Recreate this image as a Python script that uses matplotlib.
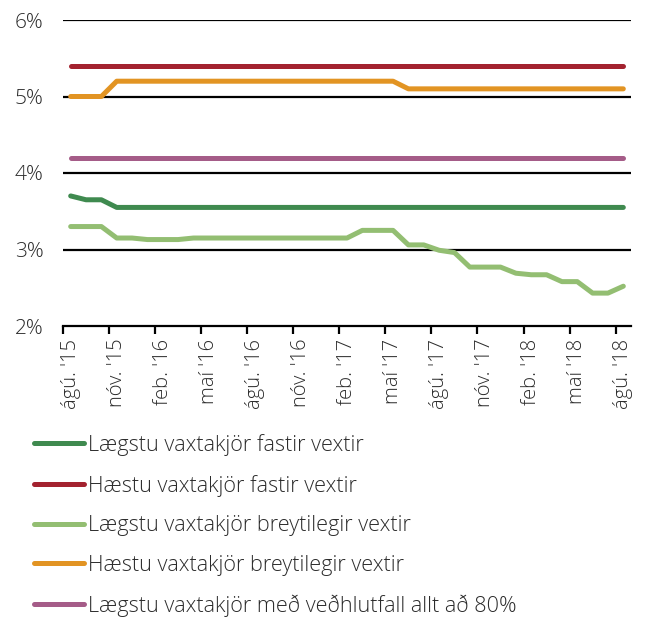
import matplotlib
matplotlib.use('Agg')
import matplotlib.pyplot as plt
import numpy as np

plt.rcParams['font.family'] = ['Open Sans', 'DejaVu Sans']
plt.rcParams['font.weight'] = 'light'

# %% Data (monthly, ágú '15 - ágú '18)

months = ['ágú. \'15', 'sep. \'15', 'okt. \'15', 'nóv. \'15', 'des. \'15',
          'jan. \'16', 'feb. \'16', 'mar. \'16', 'apr. \'16', 'maí \'16',
          'jún. \'16', 'júl. \'16', 'ágú. \'16', 'sep. \'16', 'okt. \'16',
          'nóv. \'16', 'des. \'16', 'jan. \'17', 'feb. \'17', 'mar. \'17',
          'apr. \'17', 'maí \'17', 'jún. \'17', 'júl. \'17', 'ágú. \'17',
          'sep. \'17', 'okt. \'17', 'nóv. \'17', 'des. \'17', 'jan. \'18',
          'feb. \'18', 'mar. \'18', 'apr. \'18', 'maí \'18', 'jún. \'18',
          'júl. \'18', 'ágú. \'18']

lowFixed = [3.70, 3.65, 3.65] + [3.55] * 34
highFixed = [5.40] * 37
lowVariable = [3.30, 3.30, 3.30, 3.15, 3.15, 3.13, 3.13, 3.13, 3.15, 3.15,
               3.15, 3.15, 3.15, 3.15, 3.15, 3.15, 3.15, 3.15, 3.15, 3.25,
               3.25, 3.25, 3.06, 3.06, 2.99, 2.96, 2.77, 2.77, 2.77, 2.69,
               2.67, 2.67, 2.58, 2.58, 2.43, 2.43, 2.52]
highVariable = [5.00, 5.00, 5.00] + [5.20] * 19 + [5.10] * 15
lowLtv80 = [4.20] * 37

series = [('Lægstu vaxtakjör fastir vextir', lowFixed, '#3f8a4f'),
          ('Hæstu vaxtakjör fastir vextir', highFixed, '#a3222f'),
          ('Lægstu vaxtakjör breytilegir vextir', lowVariable, '#93be72'),
          ('Hæstu vaxtakjör breytilegir vextir', highVariable, '#e29423'),
          ('Lægstu vaxtakjör með veðhlutfall allt að 80%', lowLtv80, '#a55c88')]

# %% Plot

textCol = '#2b2b2b'

fig = plt.figure(figsize = (6.46, 6.19), dpi = 100)
ax = fig.add_axes([63/646, 1 - 326/619, (631 - 63)/646, (326 - 20)/619])

x = np.arange(len(months))

#Gridlines first so lines sit on top
for yy in [3, 4, 5, 6]:
    ax.axhline(yy, color = 'black', lw = 1.6, zorder = 1)

for label, vals, col in series:
    ax.plot(x, vals, color = col, lw = 3.6, solid_capstyle = 'round',
            solid_joinstyle = 'round', label = label, zorder = 3)

ax.set_xlim(-0.5, len(months) - 0.5)
ax.set_ylim(2, 6)

#Y axis
ax.set_yticks([2, 3, 4, 5, 6])
ax.set_yticklabels([f'{v}%' for v in [2, 3, 4, 5, 6]])
ax.tick_params(axis = 'y', length = 0, pad = 14, labelsize = 15, labelcolor = textCol)

#X axis: ticks between categories, labels every 3rd month
ax.set_xticks(np.arange(-0.5, len(months), 3))
ax.set_xticklabels([])
ax.set_xticks(x[::3], minor = True)
ax.set_xticklabels([months[i] for i in x[::3]], minor = True, rotation = 90)
ax.tick_params(axis = 'x', which = 'major', length = 6, width = 1.6, direction = 'out',
               color = 'black')
ax.tick_params(axis = 'x', which = 'minor', length = 0, pad = 9, labelsize = 14.5,
               labelcolor = textCol)

for side in ['top', 'right', 'left']:
    ax.spines[side].set_visible(False)
ax.spines['bottom'].set_linewidth(1.6)
ax.spines['bottom'].set_zorder(2)

#Legend below the chart
leg = ax.legend(loc = 'upper left', bbox_to_anchor = (34/646, 1 - 434/619),
                bbox_transform = fig.transFigure, frameon = False,
                fontsize = 15.6, handlelength = 2.3, handletextpad = 0.17,
                labelspacing = 0.86, borderpad = 0, borderaxespad = 0)
for txt in leg.get_texts():
    txt.set_color(textCol)
for ln in leg.get_lines():
    ln.set_linewidth(3.6)
    ln.set_solid_capstyle('round')

plt.savefig('out.png', dpi = 100)
plt.close()
